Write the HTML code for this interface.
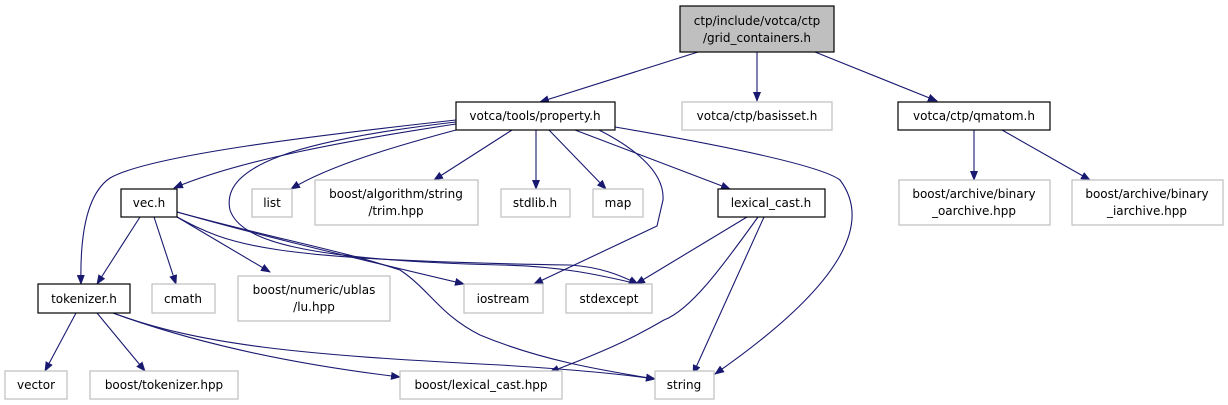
<!DOCTYPE html>
<html><head><meta charset="utf-8"><style>
html,body{margin:0;padding:0;background:#fff;width:1228px;height:405px;overflow:hidden}
svg text{font-family:"DejaVu Sans","Liberation Sans",sans-serif;font-size:12px;fill:#000;text-anchor:middle}
.e{fill:none;stroke:#191970;stroke-width:1.1}
.n{fill:#fff;stroke:#000;stroke-width:1.2}
.g{fill:#fff;stroke:#bfbfbf;stroke-width:1.2}
</style></head><body>
<svg width="1228" height="405" viewBox="0 0 1228 405" xmlns="http://www.w3.org/2000/svg">
<defs><marker id="a" markerWidth="10" markerHeight="8" refX="9" refY="4" orient="auto" markerUnits="userSpaceOnUse"><path d="M0,0 L10,4 L0,8 z" fill="#191970"/></marker></defs>
<g marker-end="url(#a)">
<path class="e" d="M698,52 L540,102"/>
<path class="e" d="M757,52 L757,101"/>
<path class="e" d="M815,52 L937,101"/>
<path class="e" d="M974,130 L974,180"/>
<path class="e" d="M1002,130 L1090,180"/>
<path class="e" d="M456,130 C400,145 330,165 291,189"/>
<path class="e" d="M512,130 L434,180"/>
<path class="e" d="M536,130 L536,189"/>
<path class="e" d="M549,130 L606,189"/>
<path class="e" d="M575,130 L730,189"/>
<path class="e" d="M456,124 C350,140 240,160 174,188"/>
<path class="e" d="M456,120 C320,135 150,155 110,178 C85,195 80,240 81,284"/>
<path class="e" d="M593,127 C630,145 665,170 663,200 L657,226 L534,284"/>
<path class="e" d="M456,122 C300,140 220,165 230,210 C240,240 300,260 500,265 C560,266 600,275 638,284"/>
<path class="e" d="M615,127 C720,145 820,165 840,180 C870,220 850,280 715,374"/>
<path class="e" d="M747,217 L636,284"/>
<path class="e" d="M764,217 L693,374"/>
<path class="e" d="M758,217 C720,270 690,310 664,320 C630,340 600,353 550,372"/>
<path class="e" d="M177,212 C240,230 320,250 464,284"/>
<path class="e" d="M177,217 C230,245 260,260 570,265 C600,267 620,275 638,284"/>
<path class="e" d="M177,212 C280,240 340,250 400,270 C430,290 440,315 480,335 C540,360 600,370 655,379"/>
<path class="e" d="M177,217 L270,272"/>
<path class="e" d="M140,217 L97,284"/>
<path class="e" d="M154,217 L176,284"/>
<path class="e" d="M76,313 L45,371"/>
<path class="e" d="M97,313 L145,371"/>
<path class="e" d="M113,313 C200,345 300,365 400,377"/>
<path class="e" d="M113,313 C200,345 300,355 500,365 C580,370 620,374 655,379"/>
</g>
<rect x="680" y="6" width="154" height="46" fill="#bfbfbf" stroke="#000" stroke-width="1.2"/>
<text x="757" y="25">ctp/include/votca/ctp</text><text x="757" y="42">/grid_containers.h</text>
<rect class="n" x="456" y="102" width="159" height="28"/><text x="535" y="120">votca/tools/property.h</text>
<rect class="g" x="682" y="102" width="150" height="28"/><text x="757" y="120">votca/ctp/basisset.h</text>
<rect class="n" x="898" y="102" width="152" height="28"/><text x="974" y="120">votca/ctp/qmatom.h</text>
<rect class="n" x="121" y="189" width="56" height="28"/><text x="149" y="207">vec.h</text>
<rect class="g" x="252" y="189" width="40" height="28"/><text x="272" y="207">list</text>
<rect class="g" x="315" y="180" width="163" height="45"/><text x="396" y="198">boost/algorithm/string</text><text x="396" y="215">/trim.hpp</text>
<rect class="g" x="501" y="189" width="69" height="28"/><text x="535" y="207">stdlib.h</text>
<rect class="g" x="593" y="189" width="50" height="28"/><text x="618" y="207">map</text>
<rect class="n" x="718" y="189" width="107" height="28"/><text x="771" y="207">lexical_cast.h</text>
<rect class="g" x="899" y="180" width="151" height="45"/><text x="974" y="198">boost/archive/binary</text><text x="974" y="215">_oarchive.hpp</text>
<rect class="g" x="1072" y="180" width="151" height="45"/><text x="1147" y="198">boost/archive/binary</text><text x="1147" y="215">_iarchive.hpp</text>
<rect class="n" x="38" y="284" width="92" height="29"/><text x="84" y="303">tokenizer.h</text>
<rect class="g" x="152" y="284" width="63" height="29"/><text x="183" y="303">cmath</text>
<rect class="g" x="238" y="276" width="152" height="45"/><text x="314" y="294">boost/numeric/ublas</text><text x="314" y="311">/lu.hpp</text>
<rect class="g" x="464" y="284" width="79" height="29"/><text x="503" y="303">iostream</text>
<rect class="g" x="566" y="284" width="86" height="29"/><text x="609" y="303">stdexcept</text>
<rect class="g" x="5" y="371" width="62" height="28"/><text x="36" y="389">vector</text>
<rect class="g" x="90" y="371" width="148" height="28"/><text x="164" y="389">boost/tokenizer.hpp</text>
<rect class="g" x="400" y="371" width="162" height="28"/><text x="481" y="389">boost/lexical_cast.hpp</text>
<rect class="g" x="655" y="371" width="59" height="28"/><text x="684" y="389">string</text>
</svg>
</body></html>
